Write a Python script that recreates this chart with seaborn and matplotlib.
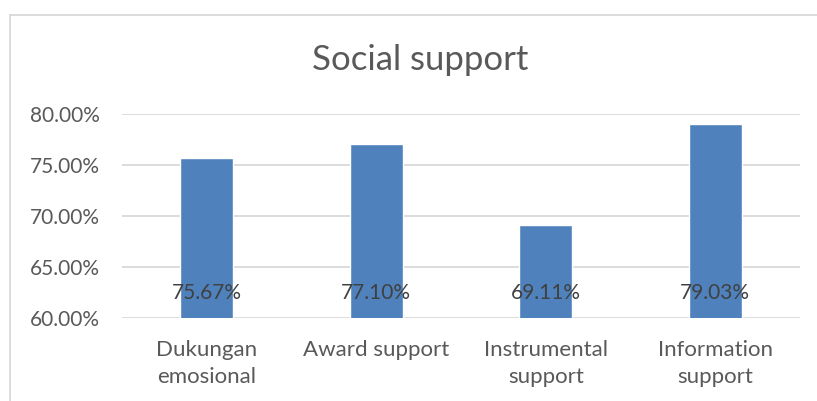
import matplotlib
matplotlib.use("Agg")
import matplotlib.pyplot as plt
from matplotlib.lines import Line2D
from matplotlib.ticker import FuncFormatter
import seaborn as sns
import pandas as pd

categories = ["Dukungan\nemosional", "Award support", "Instrumental\nsupport", "Information\nsupport"]
values = [0.7567, 0.7710, 0.6911, 0.7903]
value_labels = ["75.67%", "77.10%", "69.11%", "79.03%"]
y_ticks = [0.60, 0.65, 0.70, 0.75, 0.80]

sns.set_theme(style="white")
plt.rcParams['font.family'] = ['Lato', 'DejaVu Sans']

df = pd.DataFrame({"category": categories, "value": values})

fig = plt.figure(figsize=(8.17, 4.01), dpi=100)
ax = fig.add_axes([122 / 817, 83 / 401, (800 - 122) / 817, (318 - 114) / 401])

sns.barplot(data=df, x="category", y="value", color="#4F81BD", saturation=1,
            width=0.31, ax=ax, zorder=3)

ax.set_ylim(0.6, 0.8)
ax.set_yticks(y_ticks)
ax.yaxis.set_major_formatter(FuncFormatter(lambda v, p: f"{v * 100:.2f}%"))
ax.grid(axis="y", color="#D9D9D9", linewidth=1.3, zorder=0)
ax.set_axisbelow(True)
for s in ax.spines.values():
    s.set_visible(False)
ax.set_xlabel("")
ax.set_ylabel("")
ax.tick_params(axis="y", length=0, pad=16, labelsize=15, labelcolor="#595959")
ax.tick_params(axis="x", length=0, pad=16, labelsize=16, labelcolor="#595959")
for lbl in ax.get_xticklabels():
    lbl.set_linespacing(1.45)

for i, txt in enumerate(value_labels):
    ax.annotate(txt, xy=(i, 0.6), xytext=(0, 18), textcoords="offset points",
                ha="center", va="center", fontsize=15, color="#404040", zorder=4)

fig.text(420 / 817, 1 - 60 / 401, "Social support", ha="center", va="center",
         fontsize=25, color="#595959")

# chart frame (cropped)
fig.add_artist(Line2D([10 / 817, 1], [1 - 15 / 401, 1 - 15 / 401],
                      transform=fig.transFigure, color="#D9D9D9", linewidth=1.3))
fig.add_artist(Line2D([10 / 817, 10 / 817], [0, 1 - 15 / 401],
                      transform=fig.transFigure, color="#D9D9D9", linewidth=1.3))

fig.savefig("out.png", dpi=100)
